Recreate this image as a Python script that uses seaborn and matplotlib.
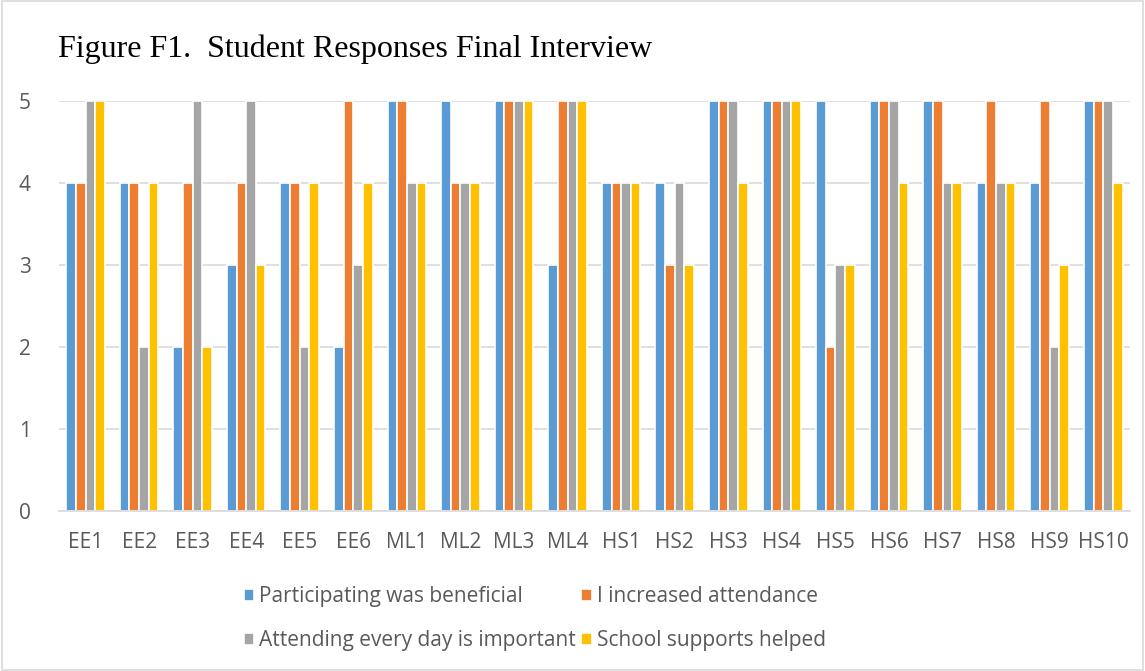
import matplotlib
matplotlib.use("Agg")
import matplotlib.pyplot as plt
import seaborn as sns
import pandas as pd
from matplotlib.patches import Rectangle

students = ["EE1", "EE2", "EE3", "EE4", "EE5", "EE6", "ML1", "ML2", "ML3", "ML4",
            "HS1", "HS2", "HS3", "HS4", "HS5", "HS6", "HS7", "HS8", "HS9", "HS10"]
series_names = ["Participating was beneficial", "I increased attendance",
                "Attending every day is important", "School supports helped"]
beneficial = [4, 4, 2, 3, 4, 2, 5, 5, 5, 3, 4, 4, 5, 5, 5, 5, 5, 4, 4, 5]
attendance = [4, 4, 4, 4, 4, 5, 5, 4, 5, 5, 4, 3, 5, 5, 2, 5, 5, 5, 5, 5]
important = [5, 2, 5, 5, 2, 3, 4, 4, 5, 5, 4, 4, 5, 5, 3, 5, 4, 4, 2, 5]
supports = [5, 4, 2, 3, 4, 4, 4, 4, 5, 5, 4, 3, 4, 5, 3, 4, 4, 4, 3, 4]
colors = ["#5B9BD5", "#ED7D31", "#A5A5A5", "#FFC000"]

rows = []
for name, vals in zip(series_names, [beneficial, attendance, important, supports]):
    for s, v in zip(students, vals):
        rows.append({"Student": s, "Response": name, "Score": v})
df = pd.DataFrame(rows)

sns.set_theme(style="white")
plt.rcParams["font.family"] = ["Open Sans", "DejaVu Sans"]

fig = plt.figure(figsize=(11.45, 6.71), dpi=100)
ax = fig.add_axes([0.0513, 0.2385, 0.9356, 0.611])

sns.barplot(data=df, x="Student", y="Score", hue="Response", order=students,
            hue_order=series_names, palette=colors, width=0.72, gap=0,
            saturation=1, edgecolor="white", linewidth=1.2, ax=ax, legend=True)

ax.set_ylim(0, 5)
ax.set_xlim(-0.5, len(students) - 0.5)
ax.set_yticks(range(0, 6))
ax.yaxis.grid(True, color="#D9D9D9", linewidth=1.2)
ax.set_axisbelow(True)
for side in ["left", "right", "top"]:
    ax.spines[side].set_visible(False)
ax.spines["bottom"].set_color("#D9D9D9")
ax.spines["bottom"].set_linewidth(1.2)
ax.tick_params(axis="both", length=0, labelsize=15, labelcolor="#595959")
ax.tick_params(axis="x", pad=15)
ax.tick_params(axis="y", pad=20)
ax.set_xlabel("")
ax.set_ylabel("")

# legend filled row by row: two series per row
handles, labels = ax.get_legend_handles_labels()
ax.legend_.remove()
order = [0, 2, 1, 3]
fig.legend([handles[i] for i in order], [labels[i] for i in order],
           loc="upper center", bbox_to_anchor=(0.467, 0.139),
           ncol=2, frameon=False, fontsize=15, labelcolor="#595959",
           handlelength=0.5, handleheight=0.5, handletextpad=0.25,
           columnspacing=0.25, labelspacing=1.1, borderaxespad=0)

fig.text(0.051, 0.927, "Figure F1.  Student Responses Final Interview",
         family="Liberation Serif", fontsize=23, color="black", va="center")

fig.patches.append(Rectangle((0.002, 0.002), 0.996, 0.996, transform=fig.transFigure,
                             fill=False, edgecolor="#D9D9D9", linewidth=1.2))

fig.savefig("out.png", dpi=100)
